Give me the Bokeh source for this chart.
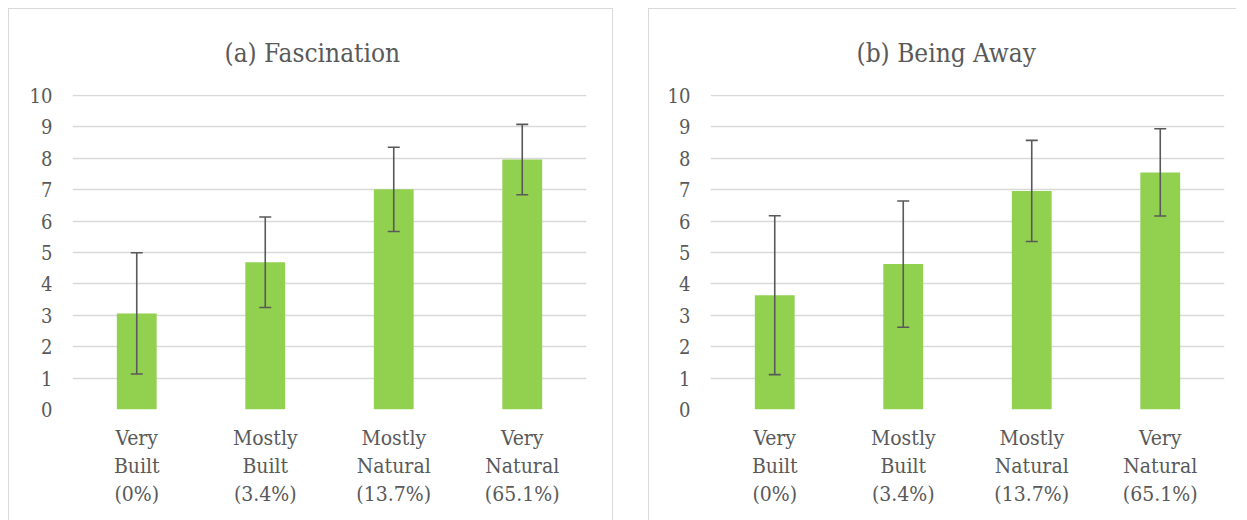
from bokeh.plotting import figure
from bokeh.models import ColumnDataSource, Whisker, TeeHead, FactorRange, Range1d
from bokeh.layouts import row
from bokeh.embed import file_html
from bokeh.resources import INLINE

categories = ["Very\nBuilt\n(0%)", "Mostly\nBuilt\n(3.4%)", "Mostly\nNatural\n(13.7%)", "Very\nNatural\n(65.1%)"]
fascination_mean = [3.06, 4.69, 7.01, 7.96]
fascination_sd = [1.93, 1.44, 1.34, 1.12]
away_mean = [3.64, 4.63, 6.96, 7.55]
away_sd = [2.53, 2.01, 1.61, 1.39]
y_ticks = [0, 1, 2, 3, 4, 5, 6, 7, 8, 9, 10]

FONT = "DejaVu Serif Condensed"
TXT = "#595959"
GRID = "#d9d9d9"
GREEN = "#92d050"


def make_panel(title, means, sds, width, left, right, title_offset, border):
    src = ColumnDataSource(dict(
        x=categories, top=means,
        upper=[m + s for m, s in zip(means, sds)],
        lower=[m - s for m, s in zip(means, sds)],
    ))
    p = figure(x_range=FactorRange(*categories, range_padding=0),
               y_range=Range1d(0, 10.03),
               width=width, height=512,
               min_border_left=left, min_border_right=right,
               min_border_top=85, min_border_bottom=112,
               output_backend="svg", toolbar_location=None,
               title=title, styles=border)
    p.vbar(x="x", top="top", width=0.31, source=src, fill_color=GREEN, line_color=None)
    w = Whisker(base="x", upper="upper", lower="lower", source=src,
                line_color=TXT, line_width=1.6, level="overlay",
                upper_head=TeeHead(size=12, line_color=TXT, line_width=1.6),
                lower_head=TeeHead(size=12, line_color=TXT, line_width=1.6))
    p.add_layout(w)

    p.title.text_font = FONT
    p.title.text_font_size = "26px"
    p.title.text_font_style = "normal"
    p.title.text_color = TXT
    p.title.align = "left"
    p.title.offset = title_offset
    p.title.standoff = 53

    p.outline_line_color = None
    p.background_fill_color = "white"
    p.border_fill_color = "white"
    p.xgrid.grid_line_color = None
    p.ygrid.grid_line_color = GRID
    p.ygrid.grid_line_width = 1.5
    p.yaxis.ticker = y_ticks

    for ax in (p.xaxis[0], p.yaxis[0]):
        ax.axis_line_color = None
        ax.major_tick_line_color = None
        ax.minor_tick_line_color = None
        ax.major_tick_out = 0
        ax.major_tick_in = 0
        ax.major_label_text_font = FONT
        ax.major_label_text_color = TXT
    p.yaxis.major_label_text_font_size = "20px"
    p.xaxis.major_label_text_font_size = "21px"
    p.yaxis.major_label_standoff = 20
    p.xaxis.major_label_standoff = 16
    p.xaxis.major_label_text_line_height = 1.17
    return p


b1 = {"border-top": "1px solid #d9d9d9", "border-left": "1px solid #d9d9d9",
      "border-right": "1px solid #d9d9d9"}
b2 = {"border-top": "1px solid #d9d9d9", "border-left": "1px solid #d9d9d9"}

p1 = make_panel("(a) Fascination", fascination_mean, fascination_sd, 605, 63, 28, 152, b1)
p2 = make_panel("(b) Being Away", away_mean, away_sd, 588, 61, 13, 146, b2)

layout = row(p1, p2, spacing=35, styles={"padding-left": "8px", "padding-top": "8px"})
open("out.html", "w").write(file_html(layout, INLINE))
